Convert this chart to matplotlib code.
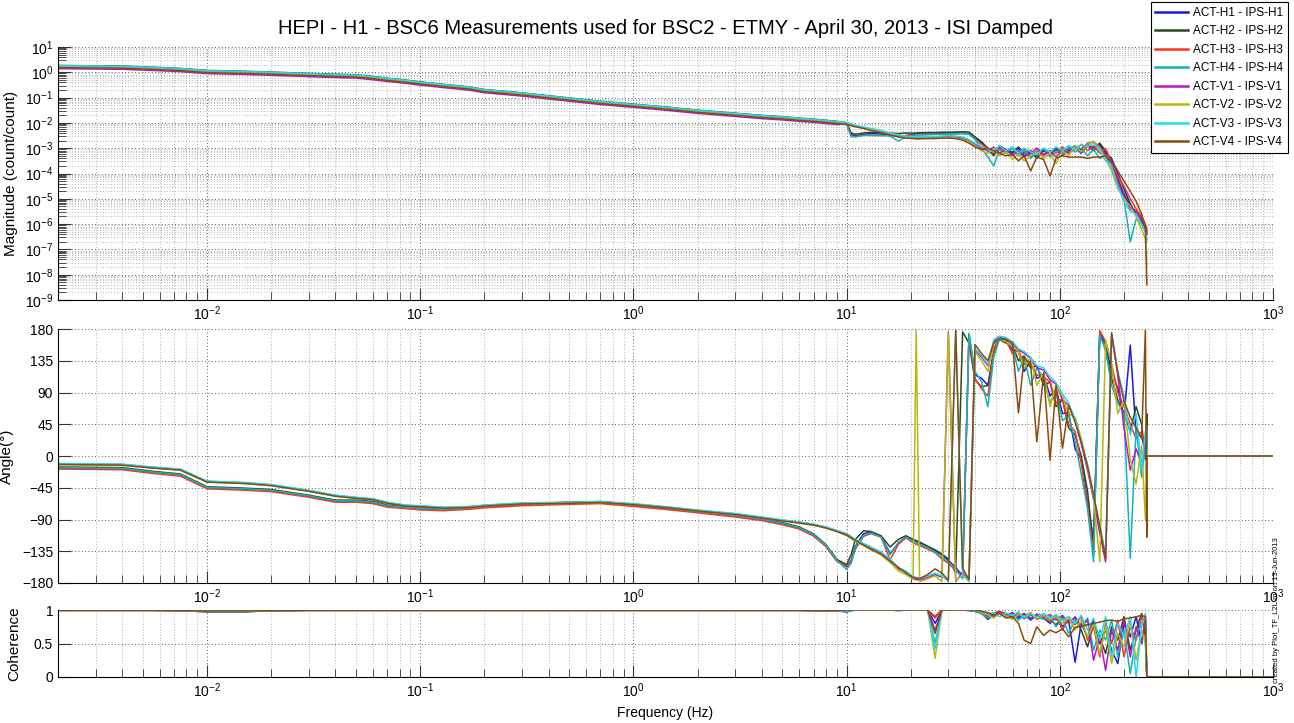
import numpy as np
import matplotlib
matplotlib.use('Agg')
import matplotlib.pyplot as plt
from matplotlib.ticker import LogLocator, NullFormatter, FixedLocator

plt.rcParams['font.family'] = ['Liberation Sans', 'DejaVu Sans']
plt.rcParams['mathtext.fontset'] = 'custom'
plt.rcParams['mathtext.rm'] = 'Liberation Sans'
plt.rcParams['mathtext.default'] = 'regular'

# legend names and colours
names = ['ACT-H1 - IPS-H1', 'ACT-H2 - IPS-H2', 'ACT-H3 - IPS-H3', 'ACT-H4 - IPS-H4',
         'ACT-V1 - IPS-V1', 'ACT-V2 - IPS-V2', 'ACT-V3 - IPS-V3', 'ACT-V4 - IPS-V4']
colors = ['#1a1ae6', '#2c4a1c', '#ff3322', '#10b4b8',
          '#b418c4', '#b8b80c', '#22d8f4', '#8a4a0c']

# ---- low frequency part (all channels almost on top of each other)
f_lo = [0.002, 0.004, 0.0055, 0.0075, 0.01, 0.015, 0.02, 0.03, 0.04, 0.05,
        0.06, 0.07, 0.085, 0.1, 0.13, 0.17, 0.2, 0.3, 0.5, 0.7,
        1.0, 1.5, 2.0, 3.0, 4.0, 5.0, 6.0, 7.0, 8.0, 9.0]
mag_lo = [1.7, 1.6, 1.45, 1.3, 1.08, 1.0, 0.93, 0.82, 0.76, 0.72,
          0.62, 0.53, 0.45, 0.38, 0.3, 0.24, 0.19, 0.14, 0.088, 0.065,
          0.05, 0.037, 0.029, 0.022, 0.018, 0.016, 0.014, 0.0128, 0.0115, 0.0105]
mag_scale = [1.0, 1.1, 1.03, 1.05, 0.82, 0.95, 1.07, 0.9]
ph_lo_h = [-17, -18, -23, -27, -45, -47, -49, -57, -64, -64,
           -66, -71, -73, -75, -76, -74, -72, -69, -67, -66,
           -70, -75, -79, -85, -90, -96, -102, -112, -127, -148]
ph_lo_v = [-12, -13, -17, -20, -37, -39, -42, -50, -57, -60,
           -62, -67, -71, -72, -74, -73, -71, -68, -67, -66,
           -69, -74, -78, -83, -88, -92, -95, -98, -102, -107]
ph_offset = [0, 1.5, -1.5, 0.5, 1, 0, 1.5, 0]
coh_lo_h = [0.995, 0.995, 0.995, 0.99, 0.975, 0.975, 0.99, 0.995, 0.995, 0.995,
            0.995, 0.995, 0.995, 0.995, 0.995, 0.995, 0.995, 0.995, 0.995, 0.995,
            0.995, 0.995, 0.995, 0.995, 0.995, 0.995, 0.995, 0.99, 0.99, 0.99]
coh_lo_v = [0.995, 0.995, 0.995, 0.995, 0.985, 0.985, 0.99, 0.995, 0.995, 0.995,
            0.995, 0.995, 0.995, 0.995, 0.995, 0.995, 0.995, 0.995, 0.995, 0.995,
            0.995, 0.995, 0.995, 0.995, 0.995, 0.995, 0.995, 0.995, 0.995, 0.995]

# ---- high frequency part, per channel
f_hi = [10, 10.5, 11, 12, 13, 14.5, 16, 17.5, 19, 20.5,
        21.2, 22, 24, 26, 28, 30, 32.5, 35, 37.5, 40,
        43, 46, 49, 52, 56, 60, 64, 68, 73, 78,
        84, 90, 96, 103, 110, 118, 126, 135, 144, 154,
        164, 175, 187, 200, 214, 228, 242, 252, 256]

# log10 of magnitude
mag_h1 = [-2.02, -2.45, -2.52, -2.45, -2.42, -2.44, -2.47, -2.55, -2.5, -2.45,
          -2.44, -2.44, -2.44, -2.43, -2.42, -2.42, -2.4, -2.4, -2.42, -2.6,
          -2.8, -3.1, -3.25, -2.95, -3.1, -3.2, -3.0, -3.3, -3.15, -3.4,
          -3.1, -3.25, -3.05, -3.3, -3.0, -2.95, -3.2, -2.9, -3.1, -2.85,
          -3.2, -3.4, -4.0, -4.6, -5.2, -5.6, -5.9, -6.2, -6.4]
mag_h2 = [-2.0, -2.4, -2.45, -2.4, -2.38, -2.38, -2.4, -2.42, -2.4, -2.4,
          -2.4, -2.39, -2.38, -2.38, -2.37, -2.37, -2.36, -2.35, -2.36, -2.55,
          -2.75, -3.0, -3.3, -2.9, -3.05, -3.15, -2.95, -3.2, -3.1, -3.3,
          -3.05, -3.3, -3.0, -3.2, -3.1, -2.9, -3.05, -2.85, -3.0, -2.8,
          -3.1, -3.5, -4.2, -4.8, -5.3, -5.5, -5.8, -6.1, -6.3]
mag_h3 = [-2.03, -2.5, -2.55, -2.48, -2.5, -2.5, -2.48, -2.52, -2.5, -2.48,
          -2.47, -2.47, -2.46, -2.45, -2.44, -2.44, -2.43, -2.42, -2.44, -2.62,
          -2.85, -3.05, -3.2, -3.0, -3.15, -2.95, -3.25, -3.05, -3.35, -3.1,
          -3.3, -3.1, -3.2, -2.95, -3.15, -3.05, -2.85, -3.1, -2.9, -3.2,
          -3.0, -3.6, -4.1, -4.5, -5.0, -5.4, -5.7, -6.0, -6.2]
mag_h4 = [-2.05, -2.55, -2.55, -2.5, -2.48, -2.5, -2.52, -2.72, -2.55, -2.5,
          -2.48, -2.47, -2.46, -2.45, -2.45, -2.44, -2.43, -2.42, -2.45, -2.65,
          -3.0, -3.35, -3.7, -3.05, -3.2, -3.0, -3.3, -3.1, -3.4, -3.2,
          -3.0, -3.35, -3.1, -3.25, -2.95, -3.15, -3.0, -3.3, -3.05, -3.4,
          -3.3, -3.8, -4.4, -5.0, -6.7, -5.8, -6.0, -6.3, -6.6]
mag_v1 = [-2.03, -2.08, -2.12, -2.18, -2.25, -2.33, -2.42, -2.5, -2.55, -2.58,
          -2.58, -2.58, -2.57, -2.57, -2.56, -2.55, -2.56, -2.6, -2.7, -2.85,
          -3.0, -3.1, -2.95, -3.2, -3.05, -3.3, -3.1, -3.35, -3.2, -3.0,
          -3.25, -3.1, -3.35, -3.05, -3.2, -2.95, -3.1, -2.8, -2.75, -2.95,
          -3.3, -3.6, -4.3, -4.9, -5.4, -5.5, -5.9, -6.1, -6.4]
mag_v2 = [-2.05, -2.1, -2.14, -2.2, -2.27, -2.35, -2.45, -2.52, -2.57, -2.6,
          -2.62, -2.61, -2.6, -2.6, -2.58, -2.57, -2.6, -2.65, -2.75, -2.9,
          -3.1, -3.2, -3.0, -3.3, -3.15, -3.45, -3.2, -3.5, -3.3, -3.15,
          -3.4, -3.2, -3.6, -3.1, -3.3, -2.9, -3.15, -2.85, -2.72, -3.0,
          -3.4, -3.9, -4.6, -5.0, -5.3, -5.7, -6.2, -6.6, -7.6]
mag_v3 = [-1.98, -2.04, -2.1, -2.16, -2.22, -2.3, -2.4, -2.47, -2.52, -2.55,
          -2.55, -2.55, -2.54, -2.53, -2.52, -2.5, -2.52, -2.56, -2.66, -2.8,
          -2.95, -3.05, -3.15, -2.9, -3.1, -2.95, -3.2, -3.0, -3.15, -3.25,
          -3.0, -3.15, -2.95, -3.1, -2.9, -3.05, -2.85, -2.95, -2.8, -3.1,
          -3.5, -3.7, -4.5, -5.1, -5.5, -5.6, -6.0, -6.3, -6.7]
mag_v4 = [-2.06, -2.11, -2.15, -2.22, -2.3, -2.38, -2.48, -2.55, -2.6, -2.62,
          -2.63, -2.63, -2.62, -2.62, -2.6, -2.6, -2.62, -2.68, -2.8, -2.95,
          -3.05, -3.0, -3.1, -3.2, -3.3, -3.25, -3.5, -3.3, -3.9, -3.35,
          -3.45, -4.1, -3.4, -3.3, -3.35, -3.35, -3.35, -3.4, -3.35, -3.35,
          -3.3, -3.5, -3.9, -4.3, -4.7, -5.1, -5.6, -6.1, -8.4]

# phase in degrees, as displayed (wrapped)
ph_h1 = [-157, -148, -128, -110, -108, -114, -138, -124, -114, -118,
         -120, -122, -128, -134, -140, -148, -158, -170, 172, 115,
         110, 100, 150, 168, 165, 150, 148, 120, 135, 110,
         115, 85, 95, 60, 62, 10, -5, -65, -120, 176,
         158, 120, 96, 55, 157, 30, 28, 5, 12]
ph_h2 = [-154, -140, -118, -106, -107, -113, -129, -118, -113, -119,
         -121, -123, -128, -133, -139, -146, -165, 176, 160, 108,
         98, 100, 145, 165, 160, 158, 135, 142, 125, 128,
         100, 105, 70, 80, 40, 30, 0, -50, -130, 174,
         150, 110, 80, 60, 35, 70, 45, -5, 60]
ph_h3 = [-156, -150, -132, -114, -110, -115, -147, -125, -116, -123,
         -125, -127, -132, -137, -146, -152, -162, -172, 170, 110,
         95, 85, 150, 166, 163, 145, 150, 130, 132, 115,
         112, 105, 75, 82, 45, 35, -10, -70, -140, 178,
         162, 130, 90, 70, 45, 25, 35, 10, -5]
ph_h4 = [-161, -152, -130, -112, -109, -115, -140, -122, -115, -121,
         -123, -125, -130, -136, -144, -150, -160, -174, 174, 120,
         105, 70, 140, 165, 162, 156, 120, 140, 100, 125,
         110, 75, 92, 50, 58, 20, -25, -75, -150, 172,
         150, 100, 75, 60, -145, 40, -30, 15, 8]
ph_v1 = [-111, -115, -119, -125, -130, -137, -147, -160, -165, -174,
         -175, -176, -172, -168, -172, 176, -178, -165, -177, 150,
         140, 128, 162, 168, 166, 160, 150, 146, 138, 125,
         122, 108, 102, 80, 72, 50, 18, -20, -62, -110,
         -150, 170, 115, 40, -20, 10, -10, 20, 0]
ph_v2 = [-113, -117, -121, -127, -133, -140, -151, -163, -168, -175,
         178, -178, -174, -170, -178, 175, -177, -168, -178, 148,
         135, 120, 158, 167, 162, 155, 148, 125, 140, 100,
         118, 70, 100, 85, 60, 55, 25, -15, -60, -150,
         165, 130, 60, 80, -5, -40, 15, -90, 5]
ph_v3 = [-110, -114, -118, -124, -129, -136, -146, -158, -163, -171,
         -172, -173, -170, -166, -170, -178, 178, -170, -176, 152,
         142, 130, 165, 170, 168, 162, 152, 148, 140, 128,
         125, 112, 104, 88, 75, 52, 22, -12, -55, -98,
         -140, 172, 120, 85, 30, 60, -20, 35, 10]
ph_v4 = [-112, -116, -120, -126, -132, -139, -149, -158, -166, -172,
         -173, -174, -168, -160, -166, -176, 178, -159, -175, 158,
         145, 135, 160, 166, 165, 160, 61, 140, 130, 20,
         118, -6, 100, 11, 72, 48, 20, -15, -55, -100,
         -145, 175, 118, 78, 55, 40, 25, 178, -115]

# coherence
coh_h1 = [0.97, 0.99, 1, 1, 1, 1, 1, 0.99, 1, 1,
          1, 1, 1, 0.8, 1, 1, 1, 1, 0.99, 0.98,
          0.95, 0.86, 0.93, 0.97, 0.9, 0.96, 0.88, 0.94, 0.85, 0.92,
          0.88, 0.8, 0.9, 0.75, 0.85, 0.22, 0.8, 0.6, 0.85, 0.5,
          0.7, 0.4, 0.2, 0.8, 0.6, 0.9, 0.5, 0.85, 0.0]
coh_h2 = [0.98, 1, 1, 1, 1, 1, 1, 1, 1, 1,
          1, 1, 1, 0.9, 1, 1, 1, 1, 1, 0.99,
          0.97, 0.92, 0.95, 0.98, 0.93, 0.9, 0.96, 0.87, 0.93, 0.89,
          0.92, 0.85, 0.78, 0.9, 0.82, 0.88, 0.7, 0.45, 0.8, 0.6,
          0.35, 0.75, 0.55, 0.9, 0.4, 0.7, 0.95, 0.6, 0.0]
coh_h3 = [0.98, 1, 1, 1, 1, 1, 1, 1, 1, 1,
          1, 1, 1, 0.88, 1, 1, 1, 1, 1, 0.99,
          0.96, 0.9, 0.94, 0.97, 0.95, 0.88, 0.93, 0.9, 0.96, 0.86,
          0.9, 0.82, 0.92, 0.7, 0.88, 0.78, 0.9, 0.55, 0.75, 0.3,
          0.8, 0.5, 0.85, 0.3, 0.75, 0.55, 0.9, 0.7, 0.0]
coh_h4 = [0.97, 0.99, 1, 1, 1, 1, 1, 1, 1, 1,
          1, 1, 1, 0.5, 1, 1, 1, 1, 1, 0.98,
          0.94, 0.88, 0.9, 0.96, 0.9, 0.94, 0.85, 0.92, 0.88, 0.9,
          0.86, 0.9, 0.75, 0.88, 0.65, 0.85, 0.75, 0.88, 0.4, 0.7,
          0.55, 0.85, 0.3, 0.7, 0.05, 0.6, 0.8, 0.9, 0.0]
coh_v1 = [0.99, 1, 1, 1, 1, 1, 1, 1, 1, 1,
          1, 1, 1, 0.7, 1, 1, 1, 1, 1, 1,
          0.97, 0.95, 0.9, 0.97, 0.93, 0.96, 0.9, 0.95, 0.88, 0.94,
          0.9, 0.93, 0.85, 0.92, 0.8, 0.9, 0.75, 0.85, 0.25, 0.6,
          0.1, 0.7, 0.4, 0.85, 0.3, 0.75, 0.5, 0.9, 0.0]
coh_v2 = [0.99, 1, 1, 1, 1, 1, 1, 1, 1, 1,
          1, 1, 1, 0.28, 1, 1, 1, 1, 1, 1,
          0.96, 0.93, 0.88, 0.95, 0.91, 0.86, 0.94, 0.9, 0.95, 0.87,
          0.92, 0.86, 0.9, 0.8, 0.88, 0.7, 0.85, 0.6, 0.8, 0.35,
          0.75, 0.2, 0.65, 0.45, 0.85, 0.25, 0.7, 0.5, 0.0]
coh_v3 = [0.99, 1, 1, 1, 1, 1, 1, 1, 1, 1,
          1, 1, 1, 0.42, 1, 1, 1, 1, 1, 1,
          0.98, 0.94, 0.96, 0.9, 0.95, 0.92, 0.97, 0.88, 0.94, 0.9,
          0.95, 0.88, 0.93, 0.85, 0.9, 0.8, 0.92, 0.7, 0.88, 0.55,
          0.9, 0.3, 0.8, 0.6, 0.9, 0.0, 0.75, 0.95, 0.0]
coh_v4 = [1, 1, 1, 1, 1, 1, 1, 1, 1, 1,
          1, 1, 1, 0.65, 1, 1, 1, 1, 1, 1,
          0.98, 0.96, 0.92, 0.95, 0.88, 0.9, 0.8, 0.55, 0.5, 0.75,
          0.62, 0.7, 0.66, 0.72, 0.6, 0.74, 0.76, 0.78, 0.8, 0.82,
          0.84, 0.85, 0.83, 0.87, 0.88, 0.9, 0.92, 0.9, 0.0]

# beyond the last measured point phase and coherence are flat zero
f_tail = [256.5, 1000]
zero_tail = [0, 0]

mags = [mag_h1, mag_h2, mag_h3, mag_h4, mag_v1, mag_v2, mag_v3, mag_v4]
phs = [ph_h1, ph_h2, ph_h3, ph_h4, ph_v1, ph_v2, ph_v3, ph_v4]
cohs = [coh_h1, coh_h2, coh_h3, coh_h4, coh_v1, coh_v2, coh_v3, coh_v4]

W, H = 1294, 723
fig = plt.figure(figsize=(W / 100, H / 100), dpi=100)
ax_m = fig.add_axes([58 / W, 1 - 300 / H, 1215 / W, 253 / H])
ax_p = fig.add_axes([58 / W, 1 - 583 / H, 1215 / W, 254 / H])
ax_c = fig.add_axes([58 / W, 1 - 677 / H, 1215 / W, 67 / H])

lines = []
for i in range(8):
    hgrp = i < 4
    f = np.array(f_lo + f_hi)
    m = np.concatenate([np.array(mag_lo) * mag_scale[i], 10.0 ** np.array(mags[i])])
    p_lo = np.array(ph_lo_h if hgrp else ph_lo_v) + ph_offset[i]
    p = np.concatenate([p_lo, phs[i], zero_tail])
    c = np.concatenate([coh_lo_h if hgrp else coh_lo_v, cohs[i], zero_tail])
    fp = np.concatenate([f, f_tail])
    ln, = ax_m.plot(f, m, color=colors[i], lw=1.1)
    ax_p.plot(fp, p, color=colors[i], lw=1.1)
    ax_c.plot(fp, c, color=colors[i], lw=1.1)
    lines.append(ln)

grid_ls = (0, (1, 3))
for ax in [ax_m, ax_p, ax_c]:
    ax.set_xscale('log')
    ax.set_xlim(0.002, 1000)
    ax.set_axisbelow(True)
    for s in ['top', 'right']:
        ax.spines[s].set_visible(False)
    for s in ['left', 'bottom']:
        ax.spines[s].set_linewidth(0.8)
    ax.xaxis.set_major_locator(LogLocator(base=10, numticks=12))
    ax.xaxis.set_minor_locator(LogLocator(base=10, subs=np.arange(2, 10), numticks=12))
    ax.xaxis.set_minor_formatter(NullFormatter())
    ax.tick_params(which='both', direction='in', top=False, right=False,
                   labelsize=10, color='0.2')
    ax.tick_params(which='major', length=9, width=0.8)
    ax.tick_params(which='minor', length=5.5, width=0.6)
    ax.grid(True, which='major', ls=grid_ls, color='0.15', lw=0.6)
    ax.grid(True, which='minor', axis='x', ls=grid_ls, color='0.45', lw=0.5)

ax_m.set_yscale('log')
ax_m.set_ylim(1e-9, 10)
ax_m.yaxis.set_major_locator(LogLocator(base=10, numticks=15))
ax_m.yaxis.set_minor_locator(LogLocator(base=10, subs=np.arange(2, 10), numticks=15))
ax_m.yaxis.set_minor_formatter(NullFormatter())
ax_m.grid(True, which='minor', axis='y', ls=grid_ls, color='0.45', lw=0.5)
ax_m.set_ylabel('Magnitude (count/count)', fontsize=11)
ax_m.yaxis.set_label_coords(-0.033, 0.5)

ax_p.set_ylim(-180, 180)
ax_p.yaxis.set_major_locator(FixedLocator([-180, -135, -90, -45, 0, 45, 90, 135, 180]))
ax_p.set_ylabel('Angle(°)', fontsize=11)
ax_p.yaxis.set_label_coords(-0.036, 0.5)

ax_c.set_ylim(0, 1)
ax_c.set_yticks([0, 0.5, 1])
ax_c.set_yticklabels(['0', '0.5', '1'])
ax_c.set_ylabel('Coherence', fontsize=11)
ax_c.yaxis.set_label_coords(-0.03, 0.5)
ax_c.set_xlabel('Frequency (Hz)', fontsize=10)

fig.text(665 / W, 1 - 28 / H,
         'HEPI - H1 - BSC6 Measurements used for BSC2 - ETMY - April 30, 2013 - ISI Damped',
         ha='center', va='center', fontsize=14.5)

leg = fig.legend(lines, names, loc='upper right', bbox_to_anchor=(1288 / W, 1 - 2 / H),
                 fontsize=8.5, frameon=True, fancybox=False, edgecolor='black',
                 framealpha=1, borderaxespad=0, handlelength=2.8, handletextpad=0.4,
                 labelspacing=0.55, borderpad=0.4)
leg.get_frame().set_linewidth(0.8)
for lh in leg.get_lines():
    lh.set_linewidth(1.8)

fig.text(1276 / W, 1 - 610 / H, 'created by Plot_TF_L2L.m on 13-Jun-2013',
         rotation=90, fontsize=5.5, ha='center', va='center')

fig.savefig('out.png', dpi=100)
